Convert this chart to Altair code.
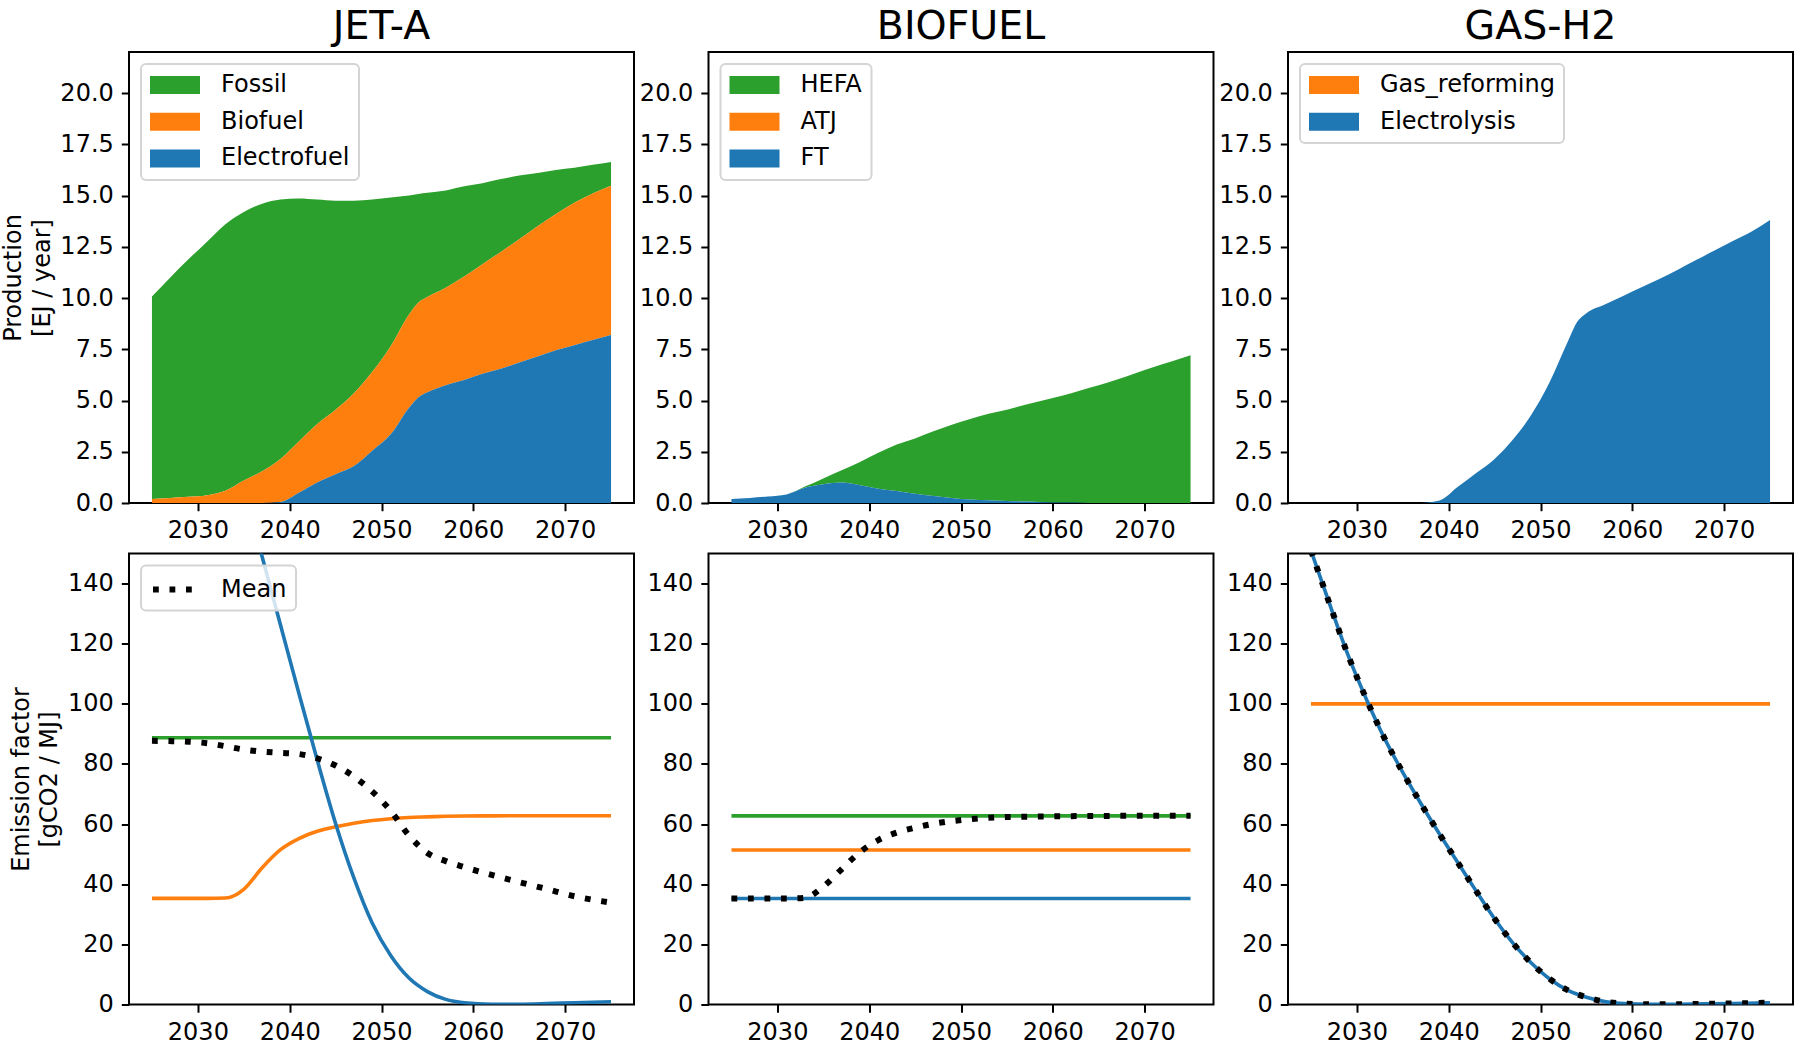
import altair as alt
import pandas as pd

# ---------------- data ----------------
YEARS_PROD = [2025, 2027, 2029, 2031, 2033, 2035, 2037, 2039, 2041, 2043, 2045, 2047, 2049,
              2051, 2053, 2054, 2055, 2057, 2059, 2061, 2063, 2065, 2067, 2069, 2071, 2073, 2075]

JETA_FOSSIL = [9.87, 10.75, 11.6, 12.37, 13.0, 13.1, 13.05, 12.65, 11.85, 10.95, 10.2, 9.4, 8.4,
               7.25, 5.8, 5.3, 5.08, 4.75, 4.4, 3.95, 3.55, 3.1, 2.6, 2.15, 1.7, 1.4, 1.17]
JETA_BIOFUEL = [0.2, 0.25, 0.3, 0.38, 0.6, 1.1, 1.55, 2.1, 2.5, 2.85, 3.15, 3.55, 3.85,
                4.3, 4.55, 4.62, 4.65, 4.75, 5.05, 5.35, 5.7, 6.02, 6.35, 6.65, 6.95, 7.15, 7.27]
JETA_ELECTRO = [0, 0, 0, 0, 0, 0, 0, 0.05, 0.5, 1.0, 1.4, 1.8, 2.55,
                3.35, 4.65, 5.15, 5.4, 5.75, 6.0, 6.3, 6.55, 6.85, 7.15, 7.45, 7.7, 7.95, 8.2]

BIO_HEFA = [0, 0, 0, 0, 0.05, 0.28, 0.6, 1.13, 1.75, 2.26, 2.7, 3.16, 3.57,
            3.93, 4.22, 4.34, 4.45, 4.72, 4.97, 5.21, 5.48, 5.74, 6.02, 6.33, 6.63, 6.91, 7.21]
BIO_ATJ = [0, 0, 0, 0, 0, 0, 0, 0, 0, 0, 0, 0, 0,
           0, 0, 0, 0, 0, 0, 0, 0, 0, 0, 0, 0, 0, 0]
BIO_FT = [0.2, 0.25, 0.32, 0.42, 0.75, 0.92, 1.0, 0.87, 0.7, 0.59, 0.45, 0.34, 0.25,
          0.17, 0.13, 0.11, 0.1, 0.07, 0.04, 0.02, 0.01, 0, 0, 0, 0, 0, 0]

H2_GAS = [0, 0, 0, 0, 0, 0, 0, 0, 0, 0, 0, 0, 0,
          0, 0, 0, 0, 0, 0, 0, 0, 0, 0, 0, 0, 0, 0]
H2_ELEC = [0, 0, 0, 0, 0, 0, 0, 0.12, 0.79, 1.46, 2.15, 3.1, 4.3,
           5.9, 7.9, 8.84, 9.26, 9.68, 10.1, 10.52, 10.94, 11.39, 11.86, 12.33, 12.79, 13.24, 13.8]

YEARS_EMIS = [2025, 2027, 2029, 2031, 2033, 2035, 2037, 2039, 2041, 2043, 2045, 2047,
              2049, 2051, 2053, 2055, 2057, 2059, 2062, 2065, 2068, 2071, 2075]

JETA_EF_FOSSIL = [88.7, 88.7, 88.7, 88.7, 88.7, 88.7, 88.7, 88.7, 88.7, 88.7, 88.7, 88.7,
                  88.7, 88.7, 88.7, 88.7, 88.7, 88.7, 88.7, 88.7, 88.7, 88.7, 88.7]
JETA_EF_BIOFUEL = [35.3, 35.3, 35.3, 35.3, 35.4, 38.3, 45.5, 51.5, 55.2, 57.6, 59.1, 60.3,
                   61.2, 61.8, 62.2, 62.4, 62.6, 62.7, 62.75, 62.8, 62.8, 62.8, 62.8]
JETA_EF_ELECTRO = [300, 275, 248, 220, 193, 171, 148.9, 126.2, 103.5, 81.3, 60.2, 42,
                   27, 16.3, 8.8, 4.3, 1.7, 0.6, 0.1, 0.1, 0.3, 0.6, 0.9]
JETA_EF_MEAN = [87.7, 87.6, 87.4, 86.9, 85.9, 84.8, 84.1, 83.7, 83.3, 81.9, 79.5, 75.8,
                70.8, 64.4, 56.2, 50.4, 47.7, 45.7, 43.1, 40.7, 38.4, 36.0, 33.9]

BIO_EF_HEFA = [62.75, 62.75, 62.75, 62.75, 62.75, 62.75, 62.75, 62.75, 62.75, 62.75, 62.75, 62.75,
               62.75, 62.75, 62.75, 62.75, 62.75, 62.75, 62.75, 62.75, 62.75, 62.75, 62.75]
BIO_EF_ATJ = [51.4, 51.4, 51.4, 51.4, 51.4, 51.4, 51.4, 51.4, 51.4, 51.4, 51.4, 51.4,
              51.4, 51.4, 51.4, 51.4, 51.4, 51.4, 51.4, 51.4, 51.4, 51.4, 51.4]
BIO_EF_FT = [35.25, 35.25, 35.25, 35.25, 35.25, 35.25, 35.25, 35.25, 35.25, 35.25, 35.25, 35.25,
             35.25, 35.25, 35.25, 35.25, 35.25, 35.25, 35.25, 35.25, 35.25, 35.25, 35.25]
BIO_EF_MEAN = [35.25, 35.25, 35.25, 35.25, 35.5, 39.2, 45.0, 50.7, 54.7, 57.2, 58.8, 60.1,
               61.0, 61.6, 62.1, 62.35, 62.45, 62.55, 62.65, 62.7, 62.75, 62.75, 62.75]

H2_EF_GAS = [100, 100, 100, 100, 100, 100, 100, 100, 100, 100, 100, 100,
             100, 100, 100, 100, 100, 100, 100, 100, 100, 100, 100]
H2_EF_ELEC = [151, 133.5, 116.5, 101.8, 88.6, 77.2, 66.7, 56.7, 47.2, 37.7, 28.5, 20.4,
              13.8, 8.5, 4.7, 2.4, 0.95, 0.3, 0.05, 0.1, 0.2, 0.35, 0.6]
H2_EF_MEAN = [151, 133.5, 116.5, 101.8, 88.6, 77.2, 66.7, 56.7, 47.2, 37.7, 28.5, 20.4,
              13.8, 8.5, 4.7, 2.4, 0.95, 0.3, 0.05, 0.1, 0.2, 0.35, 0.6]

X_TICKS = [2030, 2040, 2050, 2060, 2070]
PROD_TICKS = [0, 2.5, 5, 7.5, 10, 12.5, 15, 17.5, 20]
EMIS_TICKS = [0, 20, 40, 60, 80, 100, 120, 140]

# ---------------- styling ----------------
FONT = "DejaVu Sans"
BLUE, ORANGE, GREEN = "#1f77b4", "#ff7f0e", "#2ca02c"
PW, PH = 505, 451
RECT_PATH = "M-1,-0.75H3.1667V0.75H-1Z"
LINE_PATH = "M-1,0H3"


def x_enc():
    return alt.X("year:Q",
                 scale=alt.Scale(domain=[2022.5, 2077.5], nice=False, zero=False),
                 axis=alt.Axis(values=X_TICKS, format="d", title=None))


def y_axis(ticks, fmt, ytitle):
    if ytitle:
        return alt.Axis(values=ticks, format=fmt, title=ytitle)
    return alt.Axis(values=ticks, format=fmt, title=None)


def prod_panel(title, names, series, colors, ytitle=None):
    n = len(names)
    frames = []
    for i, (name, vals) in enumerate(zip(names, series)):
        frames.append(pd.DataFrame({"year": YEARS_PROD, "value": vals,
                                    "tech": name, "stackorder": n - 1 - i}))
    df = pd.concat(frames, ignore_index=True)
    leg = alt.Legend(title=None, orient="top-left", offset=12, symbolType=RECT_PATH,
                     symbolSize=576, symbolStrokeWidth=0, symbolOpacity=1, labelOffset=47)
    return alt.Chart(df).mark_area(interpolate="monotone", opacity=1, clip=True).encode(
        x=x_enc(),
        y=alt.Y("value:Q", stack="zero",
                scale=alt.Scale(domain=[0, 22], nice=False, zero=True),
                axis=y_axis(PROD_TICKS, ".1f", ytitle)),
        color=alt.Color("tech:N", scale=alt.Scale(domain=names, range=colors), legend=leg),
        order=alt.Order("stackorder:Q", sort="ascending"),
    ).properties(width=PW, height=PH, title=alt.TitleParams(text=title))


def emis_panel(lines, mean_vals, ytitle=None, mean_legend=False):
    y = alt.Y("value:Q", scale=alt.Scale(domain=[0, 150], nice=False, zero=True),
              axis=y_axis(EMIS_TICKS, "d", ytitle))
    layers = []
    for name, vals, color in lines:
        d = pd.DataFrame({"year": YEARS_EMIS, "value": vals, "tech": name})
        layers.append(alt.Chart(d).mark_line(color=color, strokeWidth=3.6, clip=True,
                                             interpolate="monotone").encode(x=x_enc(), y=y))
    dm = pd.DataFrame({"year": YEARS_EMIS, "value": mean_vals, "series": "Mean"})
    mean = alt.Chart(dm).mark_line(strokeWidth=6, strokeDash=[5.8, 10.7], clip=True,
                                   interpolate="monotone")
    if mean_legend:
        leg = alt.Legend(title=None, orient="top-left", offset=12, symbolType=LINE_PATH,
                         symbolSize=576, symbolStrokeWidth=6, symbolDash=[5.8, 10.7],
                         symbolFillColor="transparent", labelOffset=41)
        mean = mean.encode(x=x_enc(), y=y,
                           color=alt.Color("series:N",
                                           scale=alt.Scale(domain=["Mean"], range=["black"]),
                                           legend=leg))
    else:
        mean = mean.encode(x=x_enc(), y=y, color=alt.value("black"))
    layers.append(mean)
    return alt.layer(*layers).properties(width=PW, height=PH)


p1 = prod_panel("JET-A", ["Fossil", "Biofuel", "Electrofuel"],
                [JETA_FOSSIL, JETA_BIOFUEL, JETA_ELECTRO], [GREEN, ORANGE, BLUE],
                ytitle=["Production", "[EJ / year]"])
p2 = prod_panel("BIOFUEL", ["HEFA", "ATJ", "FT"],
                [BIO_HEFA, BIO_ATJ, BIO_FT], [GREEN, ORANGE, BLUE])
p3 = prod_panel("GAS-H2", ["Gas_reforming", "Electrolysis"],
                [H2_GAS, H2_ELEC], [ORANGE, BLUE])

q1 = emis_panel([("Fossil", JETA_EF_FOSSIL, GREEN), ("Biofuel", JETA_EF_BIOFUEL, ORANGE),
                 ("Electrofuel", JETA_EF_ELECTRO, BLUE)], JETA_EF_MEAN,
                ytitle=["Emission factor", "[gCO2 / MJ]"], mean_legend=True)
q2 = emis_panel([("HEFA", BIO_EF_HEFA, GREEN), ("ATJ", BIO_EF_ATJ, ORANGE),
                 ("FT", BIO_EF_FT, BLUE)], BIO_EF_MEAN)
q3 = emis_panel([("Gas_reforming", H2_EF_GAS, ORANGE), ("Electrolysis", H2_EF_ELEC, BLUE)],
                H2_EF_MEAN)

chart = alt.concat(
    p1, p2, p3, q1, q2, q3, columns=3,
    spacing=alt.RowColnumber(row=50.5, column=74.5), bounds="flush",
).resolve_scale(
    color="independent", x="independent", y="independent"
).properties(
    padding={"left": 0, "top": 5, "right": 5, "bottom": 5},
    background="white",
).configure(font=FONT).configure_view(
    stroke="black", strokeWidth=2
).configure_axis(
    domain=False, grid=False, ticks=True, tickColor="black", tickSize=7.7, tickWidth=2,
    labelFont=FONT, labelFontSize=24, labelColor="black", labelPadding=8,
    labelFlush=False, labelOverlap=False,
    titleFont=FONT, titleFontSize=24, titleFontWeight="normal", titleColor="black",
    titlePadding=5.5, titleLineHeight=28.8,
).configure_title(
    font=FONT, fontSize=39.5, fontWeight="normal", color="black", anchor="middle",
    baseline="alphabetic", offset=5, frame="group",
).configure_legend(
    padding=9, rowPadding=12.7, labelFont=FONT, labelFontSize=24, labelColor="black",
    labelLimit=400, fillColor="rgba(255,255,255,0.8)", strokeColor="#d4d4d4",
    strokeWidth=2, cornerRadius=5,
)

chart.save("out.html", embed_options={"renderer": "svg", "actions": False})
